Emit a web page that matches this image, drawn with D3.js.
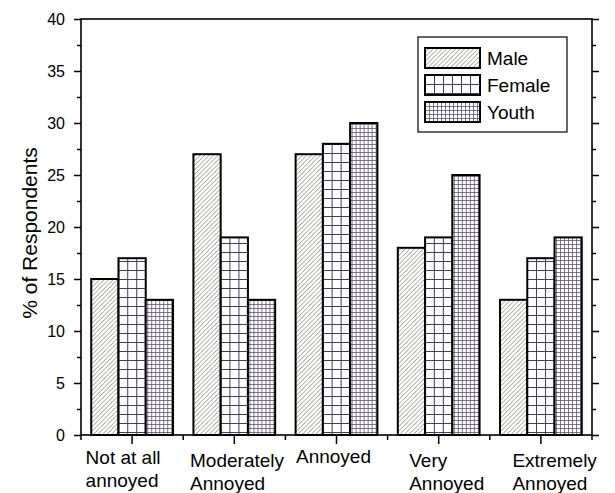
<!DOCTYPE html>
<html>
<head>
<meta charset="utf-8">
<script src="https://cdn.jsdelivr.net/npm/d3@7"></script>
<style>
  body { margin: 0; background: #fff; }
  text { font-family: "Liberation Sans", Arial, sans-serif; fill: #000; }
</style>
</head>
<body>
<svg width="615" height="493"></svg>
<script>
// data
const categories = [
    ["Not at all", "annoyed"],
    ["Moderately", "Annoyed"],
    ["Annoyed"],
    ["Very", "Annoyed"],
    ["Extremely", "Annoyed"]
];
const seriesNames = ["Male", "Female", "Youth"];
const male = [15, 27, 27, 18, 13];
const female = [17, 19, 28, 19, 17];
const youth = [13, 13, 30, 25, 19];
const yTicks = [0, 5, 10, 15, 20, 25, 30, 35, 40];

const svg = d3.select("svg");
const mLeft = 81, mRight = 592, mTop = 19, mBottom = 435;

const values = [male, female, youth];
const catIdx = d3.range(categories.length);

const x = d3.scaleBand()
    .domain(catIdx)
    .range([mLeft, mRight])
    .paddingInner(0.2)
    .paddingOuter(0.1);

const xs = d3.scaleBand()
    .domain(seriesNames)
    .range([0, x.bandwidth()]);

const y = d3.scaleLinear()
    .domain([0, 40])
    .range([mBottom, mTop]);

// fill patterns
const defs = svg.append("defs");

const hatch = defs.append("pattern")
    .attr("id", "p-Male")
    .attr("patternUnits", "userSpaceOnUse")
    .attr("width", 4.5).attr("height", 4.5);
hatch.append("rect").attr("width", 4.5).attr("height", 4.5).attr("fill", "#fff");
hatch.append("path")
    .attr("d", "M0,4.5 L4.5,0 M-1.2,1.2 L1.2,-1.2 M3.3,5.7 L5.7,3.3")
    .attr("stroke", "#8f8a7c")
    .attr("stroke-width", 0.9);

function grid(id, size, color, w) {
    const p = defs.append("pattern")
        .attr("id", id)
        .attr("patternUnits", "userSpaceOnUse")
        .attr("width", size).attr("height", size);
    p.append("rect").attr("width", size).attr("height", size).attr("fill", "#fff");
    p.append("path")
        .attr("d", `M0.5,0 V${size} M0,0.5 H${size}`)
        .attr("stroke", color)
        .attr("stroke-width", w);
}
grid("p-Female", 9, "#3e3d66", 1);
grid("p-Youth", 4, "#5b5274", 0.8);

// bars
const groups = svg.append("g")
    .selectAll("g")
    .data(catIdx)
    .join("g")
    .attr("transform", i => `translate(${x(i)},0)`);

groups.selectAll("rect")
    .data(i => seriesNames.map((s, k) => ({ s, v: values[k][i] })))
    .join("rect")
    .attr("x", d => xs(d.s))
    .attr("y", d => y(d.v))
    .attr("width", xs.bandwidth())
    .attr("height", d => mBottom - y(d.v))
    .attr("fill", d => `url(#p-${d.s})`)
    .attr("stroke", "#000")
    .attr("stroke-width", 2);

// axes
const minorY = d3.range(2.5, 40, 5);

svg.append("g")
    .attr("transform", `translate(${mLeft},0)`)
    .call(d3.axisLeft(y).tickValues(yTicks).tickSize(7).tickPadding(9))
    .call(g => g.selectAll("text").style("font-size", "16px").style("font-family", "'Liberation Sans', Arial, sans-serif"))
    .call(g => g.select(".domain").remove());

svg.append("g")
    .attr("transform", `translate(${mLeft},0)`)
    .call(d3.axisLeft(y).tickValues(minorY).tickSize(4).tickFormat(""))
    .call(g => g.select(".domain").remove());

svg.append("g")
    .attr("transform", `translate(${mRight},0)`)
    .call(d3.axisLeft(y).tickValues(yTicks).tickSize(-7).tickFormat(""))
    .call(g => g.select(".domain").remove());
svg.append("g")
    .attr("transform", `translate(${mRight},0)`)
    .call(d3.axisLeft(y).tickValues(minorY).tickSize(-4).tickFormat(""))
    .call(g => g.select(".domain").remove());

// bottom ticks: major at centres, minor at group edges
const xb = svg.append("g");
xb.selectAll("line.major")
    .data(catIdx)
    .join("line")
    .attr("class", "major")
    .attr("x1", i => x(i) + x.bandwidth() / 2)
    .attr("x2", i => x(i) + x.bandwidth() / 2)
    .attr("y1", mBottom).attr("y2", mBottom + 9);
xb.selectAll("line.minor")
    .data(d3.range(categories.length + 1))
    .join("line")
    .attr("class", "minor")
    .attr("x1", i => mLeft + i * x.step())
    .attr("x2", i => mLeft + i * x.step())
    .attr("y1", mBottom).attr("y2", mBottom + 5);
xb.selectAll("line").attr("stroke", "#000").attr("stroke-width", 1.5);

svg.selectAll(".tick line").attr("stroke-width", 1.5);

// frame
svg.append("rect")
    .attr("x", mLeft).attr("y", mTop)
    .attr("width", mRight - mLeft).attr("height", mBottom - mTop)
    .attr("fill", "none")
    .attr("stroke", "#000")
    .attr("stroke-width", 1.6);

// category labels (left aligned lines, shifted as in the original)
const labelShift = [-9, 3, -3, 8, 14];
const labelBase = [464, 467, 463, 467, 467];
const labels = svg.append("g").style("font-size", "19px");
catIdx.forEach(i => {
    const t = labels.append("text");
    t.selectAll("tspan")
        .data(categories[i])
        .join("tspan")
        .attr("x", 0)
        .attr("y", (d, k) => labelBase[i] + k * 23)
        .text(d => d);
    const w = t.node().getBBox().width;
    t.selectAll("tspan").attr("x", x(i) + x.bandwidth() / 2 - w / 2 + labelShift[i]);
});

// y title
svg.append("text")
    .attr("transform", `translate(37,${(mTop + mBottom) / 2 + 6}) rotate(-90)`)
    .attr("text-anchor", "middle")
    .style("font-size", "21px")
    .text("% of Respondents");

// legend
const lg = svg.append("g");
lg.append("rect")
    .attr("x", 418).attr("y", 37)
    .attr("width", 149).attr("height", 95)
    .attr("fill", "#fff")
    .attr("stroke", "#000")
    .attr("stroke-width", 1.2);

const item = lg.selectAll("g.item")
    .data(seriesNames)
    .join("g")
    .attr("class", "item")
    .attr("transform", (d, k) => `translate(425,${48 + k * 27})`);
item.append("rect")
    .attr("width", 55).attr("height", 20)
    .attr("fill", d => `url(#p-${d})`)
    .attr("stroke", "#000")
    .attr("stroke-width", 2);
item.append("text")
    .attr("x", 62).attr("y", 17)
    .style("font-size", "19px")
    .text(d => d);
</script>
</body>
</html>
